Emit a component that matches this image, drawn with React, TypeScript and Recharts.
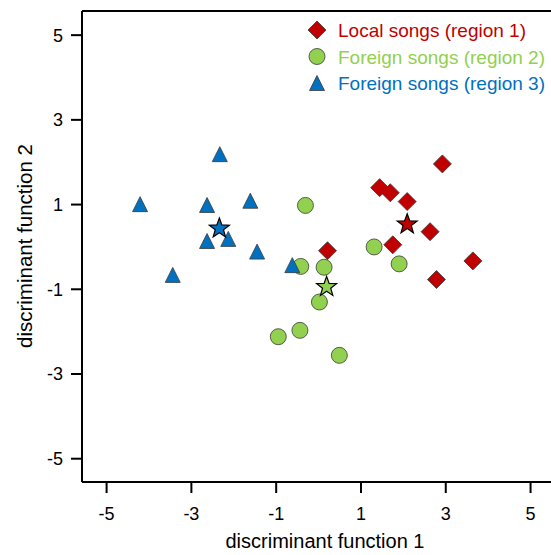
import React from "react";
import { ScatterChart, Scatter, XAxis, YAxis, ReferenceLine, Legend, Label } from "recharts";

const FONT = "'Liberation Sans', Arial, Helvetica, sans-serif";

const RED = "#c00000";
const GREEN = "#92d050";
const BLUE = "#0070c0";
const EDGE = "#3a3a3a";

// region 1: local songs
const localX = [2.92, 1.44, 1.69, 2.09, 2.63, 1.75, 0.21, 3.64, 2.78];
const localY = [1.96, 1.4, 1.28, 1.07, 0.36, 0.05, -0.09, -0.33, -0.77];

// region 2: foreign songs
const foreign2X = [-0.31, 1.31, -0.42, 0.13, 1.9, 0.02, -0.44, -0.95, 0.49];
const foreign2Y = [0.98, 0.0, -0.46, -0.48, -0.4, -1.3, -1.97, -2.12, -2.56];

// region 3: foreign songs
const foreign3X = [-2.33, -4.21, -2.63, -1.61, -2.63, -2.13, -1.45, -3.44, -0.62];
const foreign3Y = [2.19, 1.01, 0.99, 1.09, 0.14, 0.19, -0.11, -0.66, -0.43];

// group centroids (stars)
const centroidX = [2.09, 0.19, -2.34];
const centroidY = [0.56, -0.92, 0.46];
const centroidColors = [RED, GREEN, BLUE];

const xTicks = [-5, -3, -1, 1, 3, 5];
const yTicks = [-5, -3, -1, 1, 3, 5];
const xDomain: [number, number] = [-5.58, 5.6];
const yDomain: [number, number] = [-5.55, 5.57];

const legendItems = [
  { label: "Local songs (region 1)", color: RED, shape: "diamond" },
  { label: "Foreign songs (region 2)", color: GREEN, shape: "circle" },
  { label: "Foreign songs (region 3)", color: BLUE, shape: "triangle" },
];

const zip = (xs: number[], ys: number[]) => xs.map((x, i) => ({ x, y: ys[i] }));

const localData = zip(localX, localY);
const foreign2Data = zip(foreign2X, foreign2Y);
const foreign3Data = zip(foreign3X, foreign3Y);
const centroidData = centroidX.map((x, i) => ({ x, y: centroidY[i], color: centroidColors[i] }));

function Marker({ shape, cx, cy, color }: { shape: string; cx: number; cy: number; color: string }) {
  if (shape === "diamond") {
    const r = 9;
    return (
      <polygon
        points={`${cx},${cy - r} ${cx + r},${cy} ${cx},${cy + r} ${cx - r},${cy}`}
        fill={color}
        stroke={EDGE}
        strokeWidth={0.8}
      />
    );
  }
  if (shape === "circle") {
    return <circle cx={cx} cy={cy} r={8} fill={color} stroke={EDGE} strokeWidth={0.8} />;
  }
  const h = 7.5;
  return (
    <polygon
      points={`${cx},${cy - h} ${cx + h},${cy + h} ${cx - h},${cy + h}`}
      fill={color}
      stroke={EDGE}
      strokeWidth={0.8}
    />
  );
}

function Star({ cx, cy, color }: { cx: number; cy: number; color: string }) {
  const outer = 10.5;
  const inner = 4.3;
  const pts: string[] = [];
  for (let i = 0; i < 10; i++) {
    const r = i % 2 === 0 ? outer : inner;
    const a = -Math.PI / 2 + (i * Math.PI) / 5;
    pts.push(`${cx + r * Math.cos(a)},${cy + r * Math.sin(a) + 1}`);
  }
  return <polygon points={pts.join(" ")} fill={color} stroke="#000" strokeWidth={1.2} strokeLinejoin="miter" />;
}

function LegendBox() {
  return (
    <svg width={250} height={82}>
      {legendItems.map((item, i) => {
        const cy = 14 + i * 26.5;
        return (
          <g key={item.label}>
            <Marker shape={item.shape} cx={14} cy={cy} color={item.color} />
            <text x={35} y={cy + 7} fill={item.color} fontSize={19} fontFamily={FONT}>
              {item.label}
            </text>
          </g>
        );
      })}
    </svg>
  );
}

const axisText = { fill: "#000", fontSize: 18, fontFamily: FONT };
const titleText = { fill: "#000", fontSize: 20, fontFamily: FONT };

export default function App() {
  return (
    <div style={{ position: "absolute", left: 0, top: 0, width: 551, height: 555, overflow: "hidden", background: "#fff" }}>
      <ScatterChart width={570} height={555} margin={{ top: 11, right: 14, bottom: 0, left: 0 }}>
        <XAxis
          type="number"
          dataKey="x"
          domain={xDomain}
          ticks={xTicks}
          allowDataOverflow
          height={73}
          tickSize={11}
          tickMargin={14}
          tick={axisText}
          tickLine={{ stroke: "#000", strokeWidth: 2 }}
          axisLine={{ stroke: "#000", strokeWidth: 2 }}
        >
          <Label
            content={() => (
              <text x={325} y={548} textAnchor="middle" {...titleText}>
                discriminant function 1
              </text>
            )}
          />
        </XAxis>
        <YAxis
          type="number"
          dataKey="y"
          domain={yDomain}
          ticks={yTicks}
          allowDataOverflow
          width={82}
          tickSize={11}
          tickMargin={8}
          tick={axisText}
          tickLine={{ stroke: "#000", strokeWidth: 2 }}
          axisLine={{ stroke: "#000", strokeWidth: 2 }}
        >
          <Label
            content={() => (
              <text x={32} y={246} textAnchor="middle" transform="rotate(-90 32 246)" {...titleText} fontSize={20.5}>
                discriminant function 2
              </text>
            )}
          />
        </YAxis>
        <ReferenceLine y={yDomain[1]} stroke="#000" strokeWidth={2} />
        <ReferenceLine x={xDomain[1]} stroke="#000" strokeWidth={2} />
        <Legend
          layout="horizontal"
          verticalAlign="middle"
          align="center"
          wrapperStyle={{ top: 16, left: 303, width: 250, height: 82 }}
          content={() => <LegendBox />}
        />
        <Scatter
          name="Local songs (region 1)"
          data={localData}
          isAnimationActive={false}
          shape={(p: any) => <Marker shape="diamond" cx={p.cx} cy={p.cy} color={RED} />}
        />
        <Scatter
          name="Foreign songs (region 2)"
          data={foreign2Data}
          isAnimationActive={false}
          shape={(p: any) => <Marker shape="circle" cx={p.cx} cy={p.cy} color={GREEN} />}
        />
        <Scatter
          name="Foreign songs (region 3)"
          data={foreign3Data}
          isAnimationActive={false}
          shape={(p: any) => <Marker shape="triangle" cx={p.cx} cy={p.cy} color={BLUE} />}
        />
        <Scatter
          name="Centroids"
          data={centroidData}
          legendType="none"
          isAnimationActive={false}
          shape={(p: any) => <Star cx={p.cx} cy={p.cy} color={p.payload.color} />}
        />
      </ScatterChart>
    </div>
  );
}
